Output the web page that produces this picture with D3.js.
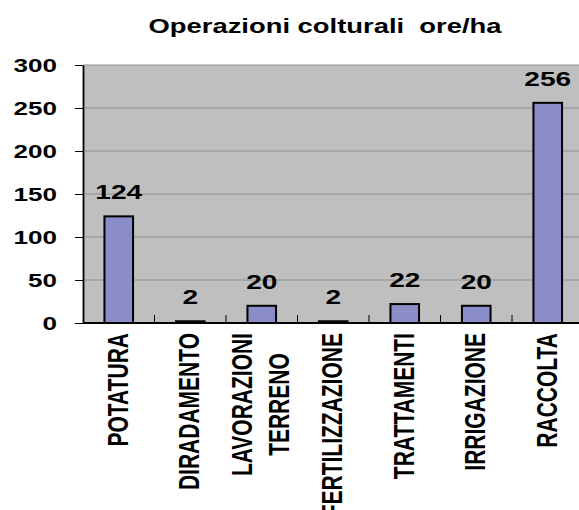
<!DOCTYPE html>
<html>
<head>
<meta charset="utf-8">
<script src="https://cdn.jsdelivr.net/npm/d3@7"></script>
<style>
  body { margin: 0; background: #fff; }
  svg { display: block; font-family: "Liberation Sans", Arial, sans-serif; font-weight: bold; }
</style>
</head>
<body>
<div id="chart"></div>
<script>
// chart data
const categories = ['POTATURA', 'DIRADAMENTO', 'LAVORAZIONI TERRENO', 'FERTILIZZAZIONE', 'TRATTAMENTI', 'IRRIGAZIONE', 'RACCOLTA'];
const categoryLines = [['POTATURA'], ['DIRADAMENTO'], ['LAVORAZIONI', 'TERRENO'], ['FERTILIZZAZIONE'], ['TRATTAMENTI'], ['IRRIGAZIONE'], ['RACCOLTA']];
const hours = [124, 2, 20, 2, 22, 20, 256];
const yTicks = [0, 50, 100, 150, 200, 250, 300];
const title = 'Operazioni colturali\u00a0\u00a0ore/ha';

const width = 579;
const height = 510;
const stretch = 1.37; // text in the original is widened horizontally

const area = { left: 83, right: 583.5, top: 65, bottom: 323 };

const svg = d3.select('#chart')
  .append('svg')
  .attr('width', width)
  .attr('height', height);

const xScale = d3.scaleBand()
  .domain(categories)
  .range([area.left, area.right])
  .padding(0);

const yScale = d3.scaleLinear()
  .domain([0, 300])
  .range([area.bottom, area.top]);

// plot background
svg.append('rect')
  .attr('x', area.left)
  .attr('y', area.top)
  .attr('width', area.right - area.left)
  .attr('height', area.bottom - area.top)
  .attr('fill', '#bfbfc0');

// gridlines
svg.append('g')
  .selectAll('line')
  .data(yTicks.filter((d) => d > 0))
  .join('line')
  .attr('x1', area.left)
  .attr('x2', area.right)
  .attr('y1', (d) => yScale(d))
  .attr('y2', (d) => yScale(d))
  .attr('stroke', '#8e8e8e')
  .attr('stroke-width', 1);

// title
svg.append('text')
  .attr('transform', `translate(325, 32.5) scale(${stretch}, 1)`)
  .attr('text-anchor', 'middle')
  .attr('font-size', 20)
  .attr('fill', '#000')
  .text(title);

// y axis
const yAxis = svg.append('g')
  .attr('transform', `translate(${area.left}, 0)`)
  .call(d3.axisLeft(yScale).tickValues(yTicks).tickSize(8).tickSizeOuter(0));

yAxis.select('.domain').attr('stroke', '#000').attr('stroke-width', 1.8);
yAxis.selectAll('.tick line').attr('stroke', '#000').attr('stroke-width', 1);
yAxis.selectAll('.tick text')
  .attr('x', null)
  .attr('dy', '0.36em')
  .attr('transform', `translate(-26, 0) scale(${stretch}, 1)`)
  .attr('text-anchor', 'end')
  .attr('font-size', 19)
  .attr('font-family', null)
  .attr('fill', '#000');
yAxis.attr('font-family', null).attr('font-size', null);

// bars
const barWidth = xScale.bandwidth() * 0.4;

svg.append('g')
  .selectAll('rect')
  .data(hours)
  .join('rect')
  .attr('x', (d, i) => xScale(categories[i]) + xScale.bandwidth() / 2 - barWidth / 2)
  .attr('y', (d) => yScale(d))
  .attr('width', barWidth)
  .attr('height', (d) => yScale(0) - yScale(d))
  .attr('fill', '#8a8dc7')
  .attr('stroke', '#000')
  .attr('stroke-width', 2);

// value labels
svg.append('g')
  .selectAll('text')
  .data(hours)
  .join('text')
  .attr('transform', (d, i) => `translate(${xScale(categories[i]) + xScale.bandwidth() / 2}, ${yScale(d) - 17}) scale(${stretch}, 1)`)
  .attr('text-anchor', 'middle')
  .attr('font-size', 20.5)
  .attr('fill', '#000')
  .text((d) => d);

// x axis line and inside ticks
svg.append('line')
  .attr('x1', area.left)
  .attr('x2', area.right)
  .attr('y1', area.bottom)
  .attr('y2', area.bottom)
  .attr('stroke', '#000')
  .attr('stroke-width', 2);

svg.append('g')
  .selectAll('line')
  .data(categories.slice(1))
  .join('line')
  .attr('x1', (d) => xScale(d))
  .attr('x2', (d) => xScale(d))
  .attr('y1', area.bottom)
  .attr('y2', area.bottom - 8)
  .attr('stroke', '#000')
  .attr('stroke-width', 1);

// category labels, rotated
const labelTop = 333;
const labelLimit = 518;
const lineGap = 37 / stretch;

const labels = svg.append('g')
  .selectAll('g')
  .data(categories)
  .join('g');

labels.each(function (cat, i) {
  const g = d3.select(this);
  const lines = categoryLines[i];
  const texts = lines.map((line) => g.append('text')
    .attr('text-anchor', 'middle')
    .attr('font-size', 21)
    .attr('fill', '#000')
    .attr('dy', '0.36em')
    .text(line));
  const maxLen = d3.max(texts, (t) => t.node().getComputedTextLength());
  const top = Math.min(labelTop, labelLimit - maxLen);
  const cx = xScale(cat) + xScale.bandwidth() / 2 - 1.5;
  const cy = top + maxLen / 2;
  g.attr('transform', `translate(${cx}, ${cy}) scale(${stretch}, 1) rotate(-90)`);
  texts.forEach((t, j) => {
    t.attr('y', (j - (lines.length - 1) / 2) * lineGap);
  });
});
</script>
</body>
</html>
